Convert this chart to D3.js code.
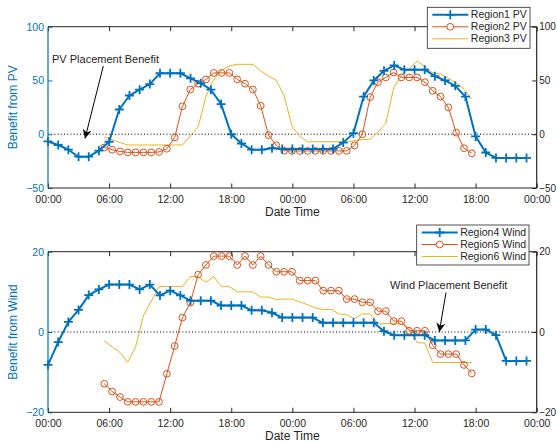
<!DOCTYPE html>
<html>
<head>
<meta charset="utf-8">
<script src="https://cdn.jsdelivr.net/npm/d3@7"></script>
<style>
  body { margin: 0; background: #fff; }
  svg text { font-family: "Liberation Sans", Arial, Helvetica, sans-serif; }
</style>
</head>
<body>
<svg id="chart"></svg>
<script>
// hourly series (Region1 / Region4), 00:00 day 1 .. 23:00 day 2
var hourTimes = d3.range(48);
// the other regions are sampled on a shorter step starting at ~05:30
var subTimes = d3.range(48).map(function(i){ return 5.53 + 0.768 * i; });

var region1PV = [-6.7,-10,-14.4,-20.9,-20.9,-15.3,-7,23,36,41.4,46.6,56.7,56.7,56.7,52,47.5,41.4,28,0,-8.6,-14.4,-14.4,-13,-13.7,
                 -13.7,-13.7,-13.7,-13.7,-13.7,-7.8,1,35,50,59,64,60,60,60,54,50,45,35,-2,-17,-22,-22,-22,-22];
var region2PV = [-12.3,-14.4,-16,-16.9,-16.9,-16.9,-16.9,-16.5,-13.5,-3,26,41.6,47,51,57,57,57,51,47,41.6,26.5,-0.8,-10.3,-15.3,
                 -15.5,-15.5,-15.5,-15.5,-15.5,-15.5,-15.5,-15.5,-10.5,0,34.5,48.4,52.8,57.5,52.8,52.8,52.8,48.4,40.4,35,25,1.5,-13,-17.7];
var region3PV = [-2.5,-5,-7.7,-10,-10,-10,-10,-10,-10,-10,-10,-1.5,7,35,51,59.5,63.5,65,65,65,59,54,50,35.6,
                 7.7,-2,-7,-7,-7,-7,-7,-7,-6,-5,-4.6,2,10,43,55,61,68,63,57,56,52,47.5,42,32.6];

var region4Wind = [-8.2,-2.5,2.5,5.5,9.2,10.6,11.8,11.8,11.8,10.6,11.8,9.1,10.3,9.1,7.8,7.8,7.8,6.6,6.6,6.6,5.4,5.4,4.8,3.6,
                   3.6,3.6,3.6,2.3,2.3,2.3,2.3,2.3,2.3,0.2,-0.8,-0.8,-0.8,-0.8,-2.1,-2.1,-2.1,-2.1,0.6,0.6,-0.8,-7.2,-7.2,-7.2];
var region5Wind = [-12.9,-14.8,-16.2,-17.4,-17.4,-17.4,-17.4,-17.4,-10.4,-3.5,3.6,7.3,14.3,16.7,18.9,18.9,18.9,16.7,18.9,16.7,18.9,16.7,15,15,
                   15,12.8,12.8,12.8,10.3,10.3,10.3,8.2,8.2,7.4,7.4,5.2,5.2,2.7,2.7,0.3,0.3,0.3,-3.3,-5.5,-5.5,-5.5,-8.2,-10.3];
var region6Wind = [-2.2,-3.7,-5.1,-7.5,-3.7,4,7.7,11.3,11.3,11.3,11.3,13.8,13.8,12.4,13.8,11.3,11.3,10,10,10,8.7,8.7,8.1,8.2,
                   8.2,7.5,6.8,6,5.6,5.6,4.5,4.3,3.3,4.5,4.5,2,2.1,2.1,2,1,-2.6,-2.8,-7.6,-7.6,-7.6,-7.6,-7.6,-7.6];

var xTickHours = [0,6,12,18,24,30,36,42,48];
var pvTicks = [-50,0,50,100];
var windTicks = [-20,0,20];

var pvNames = ["Region1 PV","Region2 PV","Region3 PV"];
var windNames = ["Region4 Wind","Region5 Wind","Region6 Wind"];

var blue = "#0072BD", orange = "#D95319", yellow = "#EDB120", dark = "#262626";

var width = 557, height = 443;
var svg = d3.select("#chart").attr("width", width).attr("height", height);

var defs = svg.append("defs");
defs.append("marker")
    .attr("id", "arrow")
    .attr("viewBox", "0 0 10 10")
    .attr("refX", 10).attr("refY", 5)
    .attr("markerWidth", 9).attr("markerHeight", 9)
    .attr("markerUnits", "userSpaceOnUse")
    .attr("orient", "auto")
  .append("path")
    .attr("d", "M0,0L10,5L0,10L3,5Z")
    .attr("fill", "#000");

var left = 48, right = 536.7;
var x = d3.scaleLinear().domain([0, 48]).range([left, right]);
var fmtHour = function(h){ return String(h % 24).padStart(2, "0") + ":00"; };

var plusPath = "M-4.5,0H4.5M0,-4.5V4.5";

function drawPanel(top, bottom, yDomain, yTicks, yLabel, series, names, legendBox){
    var y = d3.scaleLinear().domain(yDomain).range([bottom, top]);
    var g = svg.append("g");

    // zero reference
    g.append("line")
        .attr("x1", left).attr("x2", right)
        .attr("y1", y(0)).attr("y2", y(0))
        .attr("stroke", "#000").attr("stroke-width", 1)
        .attr("stroke-dasharray", "1,2.2");

    var line = d3.line().x(function(d){ return x(d[0]); }).y(function(d){ return y(d[1]); });

    // draw in order: yellow, orange, blue on top
    [2, 1, 0].forEach(function(k){
        var s = series[k];
        var pts = s.times.map(function(t, i){ return [t, s.values[i]]; });
        g.append("path")
            .datum(pts)
            .attr("fill", "none")
            .attr("stroke", s.color)
            .attr("stroke-width", s.width)
            .attr("stroke-linejoin", "round")
            .attr("d", line);
        if (s.marker === "plus") {
            g.selectAll(".plus" + k).data(pts).join("path")
                .attr("transform", function(d){ return "translate(" + x(d[0]) + "," + y(d[1]) + ")"; })
                .attr("d", plusPath)
                .attr("stroke", s.color).attr("stroke-width", 1.8).attr("fill", "none");
        } else if (s.marker === "circle") {
            g.selectAll(".circ" + k).data(pts).join("circle")
                .attr("cx", function(d){ return x(d[0]); })
                .attr("cy", function(d){ return y(d[1]); })
                .attr("r", 3.4)
                .attr("fill", "none")
                .attr("stroke", s.color).attr("stroke-width", 1);
        }
    });

    // axes
    var xb = g.append("g").attr("transform", "translate(0," + bottom + ")")
        .call(d3.axisBottom(x).tickValues(xTickHours).tickFormat(fmtHour).tickSize(-4.5).tickPadding(7));
    var xt = g.append("g").attr("transform", "translate(0," + top + ")")
        .call(d3.axisTop(x).tickValues(xTickHours).tickFormat("").tickSize(-4.5));
    var yl = g.append("g").attr("transform", "translate(" + left + ",0)")
        .call(d3.axisLeft(y).tickValues(yTicks).tickSize(-4.5).tickPadding(4));
    var yr = g.append("g").attr("transform", "translate(" + right + ",0)")
        .call(d3.axisRight(y).tickValues(yTicks).tickSize(-4.5).tickPadding(2.5));

    [xb, xt, yr].forEach(function(a){
        a.select(".domain").remove();
        a.selectAll("line").attr("stroke", dark);
        a.selectAll("text").attr("fill", dark).attr("font-size", "10.5px");
    });
    yr.selectAll("text").attr("font-size", "10px");
    yl.select(".domain").remove();
    yl.selectAll("line").attr("stroke", blue);
    yl.selectAll("text").attr("fill", blue).attr("font-size", "10.5px");
    xb.selectAll("text").attr("dy", null).attr("y", 15);

    // frame
    g.append("line").attr("x1", left).attr("x2", right).attr("y1", top).attr("y2", top).attr("stroke", dark);
    g.append("line").attr("x1", left).attr("x2", right).attr("y1", bottom).attr("y2", bottom).attr("stroke", dark);
    g.append("line").attr("x1", right).attr("x2", right).attr("y1", top).attr("y2", bottom).attr("stroke", dark).attr("stroke-width", 1.2);
    g.append("line").attr("x1", left).attr("x2", left).attr("y1", top).attr("y2", bottom).attr("stroke", blue).attr("stroke-width", 1.2);

    // labels
    g.append("text")
        .attr("transform", "translate(17," + ((top + bottom) / 2) + ") rotate(-90)")
        .attr("text-anchor", "middle")
        .attr("fill", blue).attr("font-size", "12px")
        .text(yLabel);
    g.append("text")
        .attr("x", (left + right) / 2).attr("y", bottom + 28)
        .attr("text-anchor", "middle")
        .attr("fill", dark).attr("font-size", "12px")
        .text("Date Time");

    // legend
    var lg = g.append("g");
    lg.append("rect")
        .attr("x", legendBox.x).attr("y", legendBox.y)
        .attr("width", legendBox.w).attr("height", legendBox.h)
        .attr("fill", "#fff").attr("stroke", dark).attr("stroke-width", 0.8);
    series.forEach(function(s, k){
        var ry = legendBox.y + 7.5 + k * 12;
        var x0 = legendBox.x + 5, x1 = legendBox.x + 41, xm = (x0 + x1) / 2;
        lg.append("line").attr("x1", x0).attr("x2", x1).attr("y1", ry).attr("y2", ry)
            .attr("stroke", s.color).attr("stroke-width", s.width);
        if (s.marker === "plus") {
            lg.append("path").attr("transform", "translate(" + xm + "," + ry + ")")
                .attr("d", plusPath).attr("stroke", s.color).attr("stroke-width", 1.8);
        } else if (s.marker === "circle") {
            lg.append("circle").attr("cx", xm).attr("cy", ry).attr("r", 3.4)
                .attr("fill", "#fff").attr("stroke", s.color);
        }
        lg.append("text")
            .attr("x", x1 + 2.5).attr("y", ry).attr("dy", "0.35em")
            .attr("fill", dark).attr("font-size", "10.5px")
            .text(names[k]);
    });

    return y;
}

drawPanel(26.7, 188, [-50, 100], pvTicks, "Benefit from PV", [
    { times: hourTimes, values: region1PV, color: blue, width: 2, marker: "plus" },
    { times: subTimes, values: region2PV, color: orange, width: 1, marker: "circle" },
    { times: subTimes, values: region3PV, color: yellow, width: 1, marker: null }
], pvNames, { x: 427.3, y: 7.3, w: 102.7, h: 41 });

drawPanel(251.7, 412.3, [-20, 20], windTicks, "Benefit from Wind", [
    { times: hourTimes, values: region4Wind, color: blue, width: 2, marker: "plus" },
    { times: subTimes, values: region5Wind, color: orange, width: 1, marker: "circle" },
    { times: subTimes, values: region6Wind, color: yellow, width: 1, marker: null }
], windNames, { x: 416.7, y: 225, w: 112.3, h: 40 });

// annotations
svg.append("text").attr("x", 52).attr("y", 63).attr("font-size", "11px").attr("fill", dark)
    .text("PV Placement Benefit");
svg.append("line").attr("x1", 103.3).attr("y1", 66).attr("x2", 85).attr("y2", 138.5)
    .attr("stroke", "#000").attr("stroke-width", 1).attr("marker-end", "url(#arrow)");

svg.append("text").attr("x", 390).attr("y", 289).attr("font-size", "11px").attr("fill", dark)
    .text("Wind Placement Benefit");
svg.append("line").attr("x1", 446).attr("y1", 292.5).attr("x2", 439.3).attr("y2", 332)
    .attr("stroke", "#000").attr("stroke-width", 1).attr("marker-end", "url(#arrow)");
</script>
</body>
</html>
